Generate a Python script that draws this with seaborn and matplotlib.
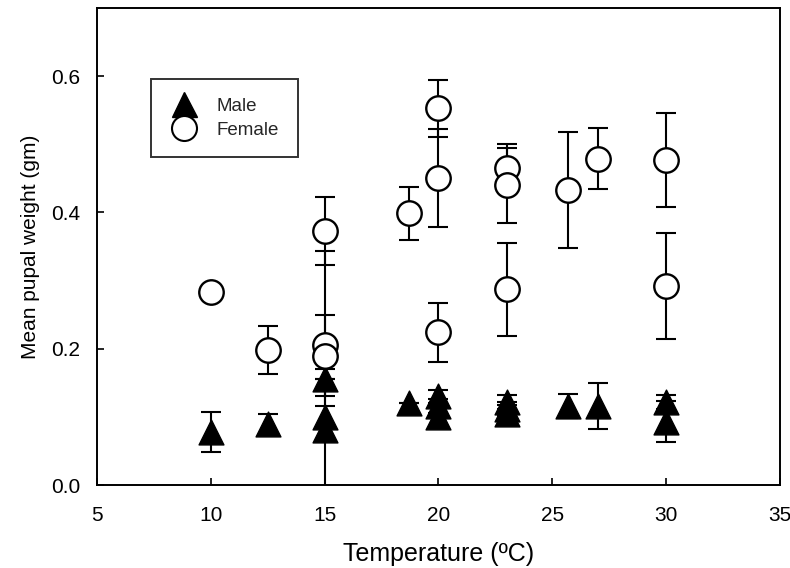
import matplotlib
matplotlib.use("Agg")
import matplotlib.pyplot as plt
import seaborn as sns
import pandas as pd
from matplotlib.lines import Line2D

# ---- data ----
female_temp = [10, 12.5, 15, 15, 15, 18.7, 20, 20, 20, 23, 23, 23, 25.7, 27, 30, 30]
female_mean = [0.283, 0.198, 0.373, 0.206, 0.190, 0.399, 0.553, 0.450, 0.224,
               0.465, 0.440, 0.287, 0.433, 0.479, 0.477, 0.292]
female_se = [0.0, 0.035, 0.050, 0.138, 0.060, 0.039, 0.042, 0.072, 0.043,
             0.035, 0.055, 0.068, 0.085, 0.045, 0.069, 0.078]

male_temp = [10, 12.5, 15, 15, 15, 18.7, 20, 20, 20, 23, 23, 23, 25.7, 27, 30, 30]
male_mean = [0.078, 0.089, 0.155, 0.100, 0.081, 0.121, 0.130, 0.116, 0.100,
             0.122, 0.112, 0.105, 0.116, 0.116, 0.122, 0.093]
male_se = [0.029, 0.016, 0.0, 0.016, 0.090, 0.0, 0.010, 0.010, 0.016,
           0.010, 0.010, 0.013, 0.017, 0.034, 0.010, 0.030]

x_ticks = [5, 10, 15, 20, 25, 30, 35]
y_ticks = [0.0, 0.2, 0.4, 0.6]

df_f = pd.DataFrame({"temp": female_temp, "mean": female_mean, "se": female_se})
df_m = pd.DataFrame({"temp": male_temp, "mean": male_mean, "se": male_se})

sns.set_theme(style="ticks")
plt.rcParams["font.family"] = ["Liberation Sans", "DejaVu Sans"]

fig = plt.figure(figsize=(7.9, 5.68), dpi=100)
ax = fig.add_axes([0.123, 0.146, 0.864, 0.840])

err_kw = dict(fmt="none", ecolor="black", elinewidth=1.5, capsize=7, capthick=1.5, zorder=1)
ax.errorbar(df_m["temp"], df_m["mean"], yerr=df_m["se"], **err_kw)
ax.errorbar(df_f["temp"], df_f["mean"], yerr=df_f["se"], **err_kw)

sns.scatterplot(data=df_m, x="temp", y="mean", marker="^", s=320, color="black",
                edgecolor="black", linewidth=1, ax=ax, zorder=3)
sns.scatterplot(data=df_f, x="temp", y="mean", marker="o", s=310, color="white",
                edgecolor="black", linewidth=1.7, ax=ax, zorder=3)

ax.set_xlim(5, 35)
ax.set_ylim(0, 0.7)
ax.set_xticks(x_ticks)
ax.set_xticklabels([str(t) for t in x_ticks])
ax.set_yticks(y_ticks)
ax.set_yticklabels([f"{t:.1f}" for t in y_ticks])
ax.tick_params(direction="in", length=5, width=1.2, labelsize=15, colors="black",
               top=False, right=False)
ax.tick_params(axis="x", pad=15)
ax.tick_params(axis="y", pad=12)
for sp in ax.spines.values():
    sp.set_visible(True)
    sp.set_linewidth(1.4)
    sp.set_color("black")

ax.set_xlabel("Temperature (ºC)", fontsize=18, labelpad=12, color="black")
ax.set_ylabel("Mean pupal weight (gm)", fontsize=15, labelpad=8, color="black")

handles = [
    Line2D([], [], marker="^", linestyle="none", markersize=18, markerfacecolor="black",
           markeredgecolor="black"),
    Line2D([], [], marker="o", linestyle="none", markersize=18, markerfacecolor="white",
           markeredgecolor="black", markeredgewidth=1.5),
]
leg = ax.legend(handles, ["Male", "Female"], loc="upper left",
                bbox_to_anchor=(0.079, 0.851), fontsize=13.5, frameon=True,
                fancybox=False, edgecolor="black", borderpad=1.0,
                handletextpad=1.0, labelspacing=0.35, borderaxespad=0,
                handlelength=1.5)
leg.get_frame().set_linewidth(1.4)

fig.savefig("out.png", dpi=100)
